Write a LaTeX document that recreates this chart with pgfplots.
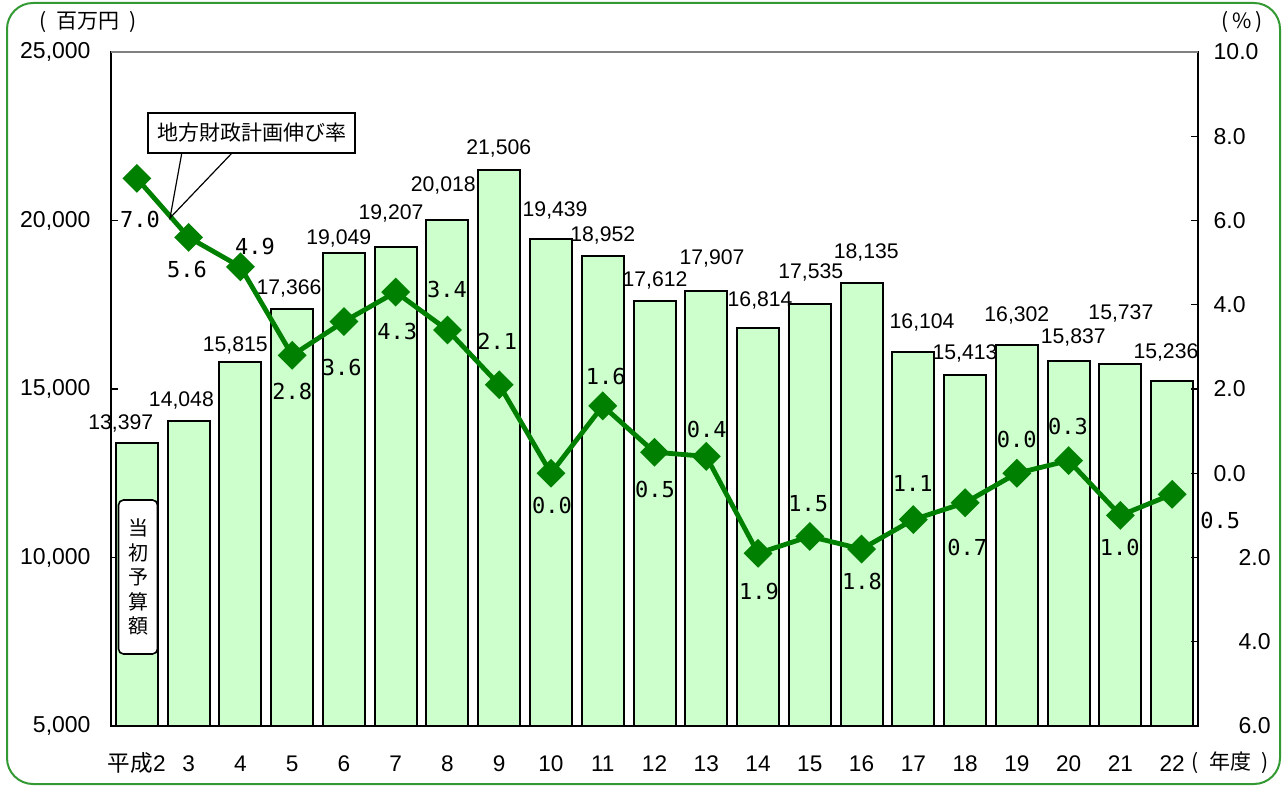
\documentclass[border=0pt]{standalone}
\usepackage{pgfplots}
\usepackage{pgfplotstable}
\pgfplotsset{compat=1.18}
\usepackage{fontspec}
\setmainfont{Liberation Sans}
\newfontfamily\jp{Noto Sans CJK JP}
\newfontfamily\mono{DejaVu Sans Mono}
\definecolor{barfill}{HTML}{CCFFCC}
\definecolor{linegreen}{HTML}{008000}
\definecolor{framegreen}{HTML}{339933}

\pgfplotstableread{
x y
0 13397
1 14048
2 15815
3 17366
4 19049
5 19207
6 20018
7 21506
8 19439
9 18952
10 17612
11 17907
12 16814
13 17535
14 18135
15 16104
16 15413
17 16302
18 15837
19 15737
20 15236
}\bars

\pgfplotstableread{
x y lab
-0.31 13991 13,397
0.86 14673 14,048
1.90 16306 15,815
2.94 17997 17,366
3.90 19481 19,049
4.91 20222 19,207
5.92 21053 20,018
6.99 22151 21,506
8.08 20312 19,439
9.00 19570 18,952
10.01 18234 17,612
11.11 18887 17,907
12.04 17641 16,814
13.02 18472 17,535
14.09 19065 18,135
15.17 16988 16,104
16.00 16068 15,413
17.00 17196 16,302
18.09 16543 15,837
19.01 17255 15,737
19.88 16098 15,236
}\barlabels

\pgfplotstableread{
x y
0 7.0
1 5.6
2 4.9
3 2.8
4 3.6
5 4.3
6 3.4
7 2.1
8 0.0
9 1.6
10 0.5
11 0.4
12 -1.9
13 -1.5
14 -1.8
15 -1.1
16 -0.7
17 0.0
18 0.3
19 -1.0
20 -0.5
}\rate

\pgfplotstableread{
x y lab
0.06 6.02 7.0
0.97 4.83 5.6
2.28 5.38 4.9
3.00 1.93 2.8
3.96 2.52 3.6
5.03 3.36 4.3
5.99 4.36 3.4
6.96 3.14 2.1
8.02 -0.76 0.0
9.06 2.29 1.6
10.01 -0.38 0.5
11.01 1.05 0.4
12.02 -2.81 1.9
12.97 -0.71 1.5
14.01 -2.57 1.8
14.99 -0.24 1.1
16.04 -1.76 0.7
17.00 0.79 0.0
17.99 1.10 0.3
18.99 -1.76 1.0
20.93 -1.12 0.5
}\ratelabels

\begin{document}
\begin{tikzpicture}
\useasboundingbox (0,0) rectangle (641.5pt,393.5pt);
\begin{axis}[
  at={(55.5pt,30.5pt)}, anchor=south west,
  scale only axis, width=543.5pt, height=337pt,
  xmin=-0.5, xmax=20.5, ymin=5000, ymax=25000,
  ytick={5000,10000,15000,20000,25000},
  scaled y ticks=false,
  /pgf/number format/assume math mode=true,
  /pgf/number format/1000 sep={,},
  yticklabel style={font=\fontsize{11.5}{13}\selectfont, anchor=east, xshift=-6.7pt},
  ytick pos=left,
  xtick={0,...,20},
  xticklabels={{\jp 平成}2,3,4,5,6,7,8,9,10,11,12,13,14,15,16,17,18,19,20,21,22},
  xticklabel style={font=\fontsize{11.3}{13}\selectfont, anchor=base, yshift=-22.5pt},
  xtick style={draw=none},
  xtick pos=bottom,
  axis line style={black, line width=1pt},
  ytick style={black, line width=0.6pt},
  major tick length=3.5pt,
  tick align=inside,
  clip=false,
]
\addplot[ybar, bar width=21pt, bar shift=0pt, fill=barfill, draw=black, line width=1pt] table[x=x,y=y]{\bars};
\addplot[only marks, mark=none, nodes near coords, point meta=explicit symbolic,
  every node near coord/.append style={anchor=center, inner sep=0pt, font=\fontsize{10.6}{12}\selectfont}]
  table[x=x,y=y,meta=lab]{\barlabels};
\end{axis}
\begin{axis}[
  at={(55.5pt,30.5pt)}, anchor=south west,
  scale only axis, width=543.5pt, height=337pt,
  xmin=-0.5, xmax=20.5, ymin=-6, ymax=10,
  axis y line*=right, axis x line=none,
  ytick={-6,-4,-2,0,2,4,6,8,10},
  yticklabels={\hspace*{12.5pt}6.0,\hspace*{12.5pt}4.0,\hspace*{12.5pt}2.0,0.0,2.0,4.0,6.0,8.0,10.0},
  yticklabel style={font=\fontsize{11.5}{13}\selectfont, anchor=west, xshift=4.3pt},
  /pgf/number format/assume math mode=true,
  axis line style={black, line width=1pt},
  ytick style={black, line width=0.6pt},
  major tick length=3.5pt,
  tick align=inside,
  clip=false,
]
\addplot[linegreen, line width=2.4pt, mark=square*, mark size=3.9pt, mark options={rotate=45, solid, fill=linegreen}] table[x=x,y=y]{\rate};
\addplot[only marks, mark=none, nodes near coords, point meta=explicit symbolic,
  every node near coord/.append style={anchor=center, inner sep=0pt, font=\mono\fontsize{11}{12}\selectfont}]
  table[x=x,y=y,meta=lab]{\ratelabels};
\end{axis}
\begin{scope}[x=0.5pt,y=-0.5pt,yshift=393.5pt]
  \draw[framegreen, line width=1pt, rounded corners=13pt] (7,3) rectangle (1280,784);
  \draw[gray, line width=1pt] (111,52) -- (1198,52);
  \draw[black, line width=0.6pt] (182,152) -- (170,218) -- (233,152);
  \node[draw, fill=white, line width=0.8pt, minimum width=103.5pt, minimum height=20pt, inner sep=0pt,
        font=\jp\fontsize{10.5}{12}\selectfont] at (251.5,133) {地方財政計画伸び率};
  \node[draw, fill=white, rounded corners=2.5pt, line width=0.8pt, minimum width=19.5pt, minimum height=77pt,
        inner sep=0pt, align=center, font=\jp\fontsize{10}{12.25}\selectfont] at (138,577) {当\\初\\予\\算\\額};
  \node[font=\jp\fontsize{10.5}{12}\selectfont] at (88,22) {(\hspace{5pt}百万円\hspace{5pt})};
  \node[font=\jp\fontsize{10.5}{12}\selectfont] at (1242,22) {(\hspace{2pt}\%\hspace{2pt})};
  \node[font=\jp\fontsize{10.5}{12}\selectfont] at (1230,763) {(\hspace{5pt}年度\hspace{5pt})};
\end{scope}
\end{tikzpicture}
\end{document}
